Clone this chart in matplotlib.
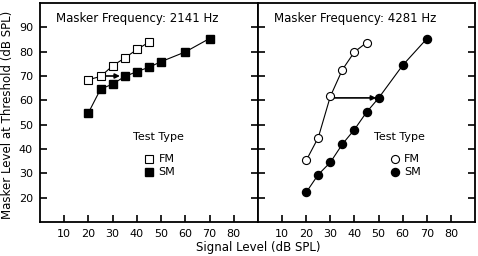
import matplotlib
matplotlib.use("Agg")
import matplotlib.pyplot as plt

# Data
sig_2141_fm = [20, 25, 30, 35, 40, 45]
msk_2141_fm = [68.5, 69.8, 74.2, 77.4, 80.9, 83.9]
sig_2141_sm = [20, 25, 30, 35, 40, 45, 50, 60, 70]
msk_2141_sm = [54.9, 64.6, 66.7, 69.8, 71.8, 73.6, 75.9, 79.9, 85.4]

sig_4281_fm = [20, 25, 30, 35, 40, 45]
msk_4281_fm = [35.3, 44.7, 61.6, 72.6, 79.9, 83.7]
sig_4281_sm = [20, 25, 30, 35, 40, 45, 50, 60, 70]
msk_4281_sm = [22.2, 29.5, 34.5, 42.0, 48.0, 55.1, 60.9, 74.4, 85.3]

xticks = [10, 20, 30, 40, 50, 60, 70, 80]
yticks = [20, 30, 40, 50, 60, 70, 80, 90]

plt.rcParams["font.family"] = ["DejaVu Sans"]
plt.rcParams["font.size"] = 8

fig = plt.figure(figsize=(4.78, 2.56), dpi=100)
ax1 = fig.add_axes([40 / 478, 34 / 256, 218 / 478, 219 / 256])
ax2 = fig.add_axes([258 / 478, 34 / 256, 217 / 478, 219 / 256])


def setup(ax, show_y):
    ax.set_xlim(0, 90)
    ax.set_ylim(10, 100)
    ax.set_xticks(xticks)
    ax.set_yticks(yticks)
    ax.tick_params(direction="in", length=5, width=1.2, top=False, right=True,
                   labelsize=8, pad=5)
    if not show_y:
        ax.tick_params(labelleft=False)
    for s in ax.spines.values():
        s.set_linewidth(1.3)


# Left panel: 2141 Hz
setup(ax1, True)
ax1.plot(sig_2141_fm, msk_2141_fm, color="black", lw=0.8, marker="s", ms=5.5,
         mfc="white", mec="black", mew=0.8, zorder=3)
ax1.plot(sig_2141_sm, msk_2141_sm, color="black", lw=0.8, marker="s", ms=5.5,
         mfc="black", mec="black", zorder=3)
ax1.annotate("", xy=(33, 70), xytext=(25, 70),
             arrowprops=dict(arrowstyle="-|>", color="black", lw=1.2,
                             mutation_scale=7, shrinkA=0, shrinkB=0), zorder=2)
ax1.text(40, 93.8, "Masker Frequency: 2141 Hz", ha="center", va="center", fontsize=8.5)
ax1.text(49, 45, "Test Type", ha="center", va="center")
ax1.plot([45], [35.7], marker="s", ms=5.5, mfc="white", mec="black", mew=0.8, ls="none")
ax1.plot([45], [30.4], marker="s", ms=5.5, mfc="black", mec="black", ls="none")
ax1.text(49, 35.7, "FM", ha="left", va="center")
ax1.text(49, 30.4, "SM", ha="left", va="center")

# Right panel: 4281 Hz
setup(ax2, False)
ax2.plot(sig_4281_fm, msk_4281_fm, color="black", lw=0.8, marker="o", ms=5.8,
         mfc="white", mec="black", mew=0.8, zorder=3)
ax2.plot(sig_4281_sm, msk_4281_sm, color="black", lw=0.8, marker="o", ms=5.8,
         mfc="black", mec="black", zorder=3)
ax2.annotate("", xy=(49, 61), xytext=(30, 61),
             arrowprops=dict(arrowstyle="-|>", color="black", lw=1.2,
                             mutation_scale=7, shrinkA=0, shrinkB=0), zorder=2)
ax2.text(40.5, 93.8, "Masker Frequency: 4281 Hz", ha="center", va="center", fontsize=8.5)
ax2.text(58.5, 45, "Test Type", ha="center", va="center")
ax2.plot([57], [35.7], marker="o", ms=5.8, mfc="white", mec="black", mew=0.8, ls="none")
ax2.plot([57], [30.4], marker="o", ms=5.8, mfc="black", mec="black", ls="none")
ax2.text(60.5, 35.7, "FM", ha="left", va="center")
ax2.text(60.5, 30.4, "SM", ha="left", va="center")

fig.text(8 / 478, 0.55, "Masker Level at Threshold (dB SPL)", rotation=90,
         ha="center", va="center", fontsize=8.5)
fig.text(258 / 478, 8 / 256, "Signal Level (dB SPL)", ha="center", va="center",
         fontsize=8.5)

fig.savefig("out.png", dpi=100)
